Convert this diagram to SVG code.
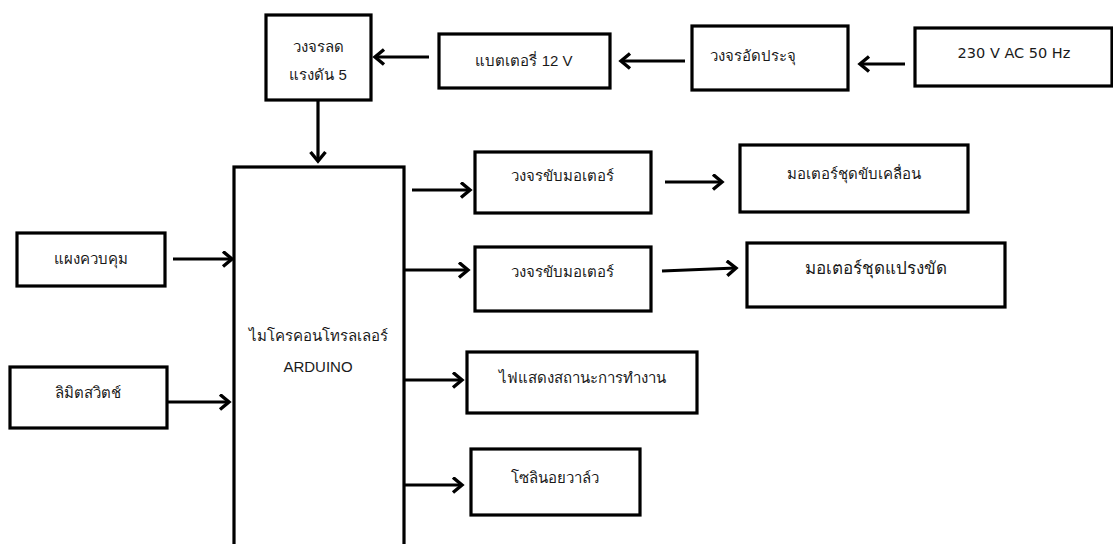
<svg xmlns="http://www.w3.org/2000/svg" width="1113" height="544" viewBox="0 0 1113 544">
<style>
.box{fill:#fff;stroke:#000;stroke-width:3.2}
.t{font-family:"Liberation Sans","Noto Sans",sans-serif;font-size:15px;fill:#1a1a1a;text-anchor:middle;dominant-baseline:central}
.en{font-family:"Liberation Sans",Arial,sans-serif;font-size:15px;fill:#1a1a1a;text-anchor:middle;dominant-baseline:central}
.tah{font-family:"DejaVu Sans",sans-serif;font-size:14.5px;fill:#1a1a1a;text-anchor:middle;dominant-baseline:central}
.c line{stroke:#000;stroke-width:3.2;marker-end:url(#ah)}
</style>
<defs>
<marker id="ah" markerUnits="userSpaceOnUse" markerWidth="14" markerHeight="18" refX="11" refY="8.5" orient="auto">
<path d="M2,1 L11,8.5 L2,16" fill="none" stroke="#000" stroke-width="3.4"/>
</marker>
</defs>
<rect width="1113" height="544" fill="#fff"/>
<g id="n-regulator"><rect class="box" x="266" y="15" width="105" height="85"/><text class="t" x="318" y="46">วงจรลด</text><text class="t" x="318" y="74">แรงดัน 5</text></g>
<g id="n-battery"><rect class="box" x="439" y="34" width="171" height="54"/><text class="t" x="524" y="60">แบตเตอรี่ 12 V</text></g>
<g id="n-charger"><rect class="box" x="692" y="26" width="156" height="64"/><text class="t" x="710" y="55" style="text-anchor:start">วงจรอัดประจุ</text></g>
<g id="n-ac"><rect class="box" x="915" y="28" width="197" height="58"/><text class="tah" x="1014" y="53">230 V AC 50 Hz</text></g>
<g id="n-mcu"><rect class="box" x="234" y="167" width="170" height="420"/><text class="t" x="318" y="335">ไมโครคอนโทรลเลอร์</text><text class="en" x="318" y="366">ARDUINO</text></g>
<g id="n-panel"><rect class="box" x="17" y="233" width="148" height="53"/><text class="t" x="91" y="258">แผงควบคุม</text></g>
<g id="n-limit"><rect class="box" x="10" y="367" width="157" height="61"/><text class="t" x="88" y="392">ลิมิตสวิตช์</text></g>
<g id="n-drv1"><rect class="box" x="475" y="152" width="176" height="61"/><text class="t" x="562" y="175">วงจรขับมอเตอร์</text></g>
<g id="n-drv2"><rect class="box" x="475" y="247" width="176" height="64"/><text class="t" x="562" y="271">วงจรขับมอเตอร์</text></g>
<g id="n-motor1"><rect class="box" x="740" y="145" width="228" height="67"/><text class="t" x="854" y="173">มอเตอร์ชุดขับเคลื่อน</text></g>
<g id="n-motor2"><rect class="box" x="747" y="243" width="258" height="64"/><text class="t" x="876" y="268" style="font-size:17px">มอเตอร์ชุดแปรงขัด</text></g>
<g id="n-led"><rect class="box" x="467" y="352" width="230" height="61"/><text class="t" x="582" y="377">ไฟแสดงสถานะการทำงาน</text></g>
<g id="n-valve"><rect class="box" x="471" y="449" width="169" height="66"/><text class="t" x="555" y="477">โซลินอยวาล์ว</text></g>
<g class="c" id="connectors">
<line x1="905" y1="64" x2="860" y2="64"/>
<line x1="685" y1="61" x2="621" y2="61"/>
<line x1="429" y1="57" x2="375" y2="57"/>
<line x1="318" y1="100" x2="318" y2="161"/>
<line x1="173" y1="259" x2="232" y2="259"/>
<line x1="167" y1="402" x2="229" y2="402"/>
<line x1="412" y1="190" x2="470" y2="190"/>
<line x1="405" y1="270" x2="468" y2="270"/>
<line x1="405" y1="380" x2="462" y2="380"/>
<line x1="405" y1="485" x2="462" y2="485"/>
<line x1="665" y1="182" x2="722" y2="182"/>
<line x1="662" y1="271" x2="736" y2="268"/>
</g>
</svg>
